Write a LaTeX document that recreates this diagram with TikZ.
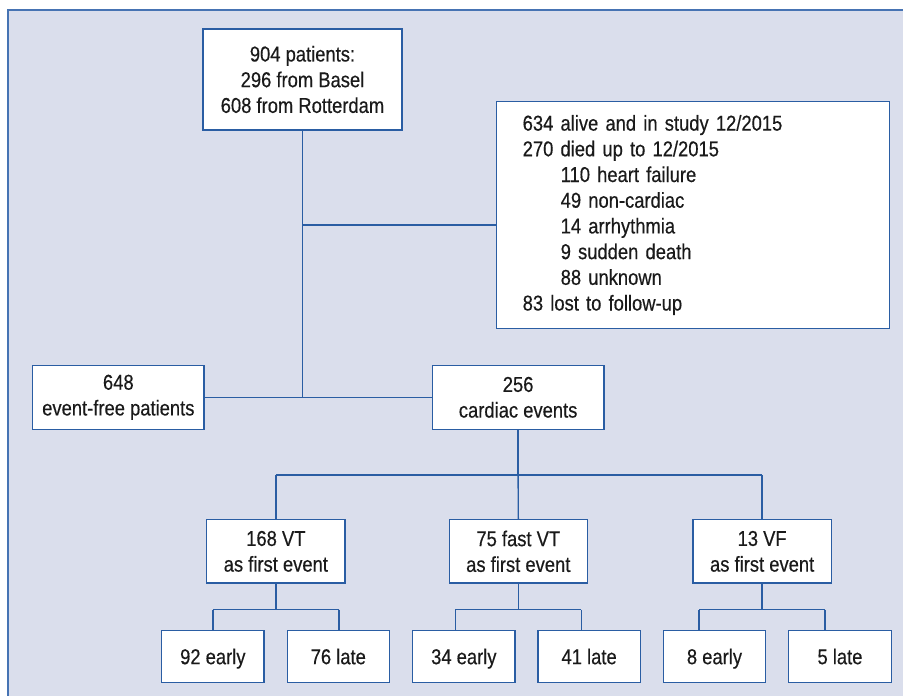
\documentclass[tikz,border=0pt]{standalone}
\usepackage{fontspec}
\setmainfont{Liberation Sans}[FakeStretch=0.855,FakeBold=0.4]
\usetikzlibrary{calc}
\definecolor{bgc}{HTML}{DADEEC}
\definecolor{framec}{HTML}{4673B3}
\definecolor{linec}{HTML}{2A5DA3}
\definecolor{txtc}{HTML}{1A1A1A}
\begin{document}
\begin{tikzpicture}[x=1pt,y=-1pt,
  box/.style={draw=linec, line width=1.4pt, fill=white, text=txtc, inner sep=0pt, align=center,
     font=\fontsize{21.5}{25.7}\selectfont},
  leaf/.style={box, minimum height=51.6pt, text height=15.4pt, text depth=0pt},
  conn/.style={draw=linec, line width=1.4pt}]
\useasboundingbox (0,0) rectangle (903,696);
\fill[white] (0,0) rectangle (903,696);
\fill[bgc] (8,10) rectangle (903,696);
\draw[framec, line width=2pt] (8,696) -- (8,10) -- (903,10);

% nodes
\node[box, minimum width=199pt, minimum height=101pt] (top) at (302.5,79.5)
  {904 patients:\\296 from Basel\\608 from Rotterdam};
\node[box, minimum width=392.6pt, minimum height=226.6pt, text width=340.6pt, align=left] (rb) at (693,215)
  {634 alive and in study 12/2015\\270 died up to 12/2015\\
   \hspace*{38pt}110 heart failure\\\hspace*{38pt}49 non-cardiac\\\hspace*{38pt}14 arrhythmia\\
   \hspace*{38pt}9 sudden death\\\hspace*{38pt}88 unknown\\83 lost to follow-up};
\node[box, minimum width=171.3pt, minimum height=64pt] (ef) at (118.35,397.3) {648\\event-free patients};
\node[box, minimum width=171.7pt, minimum height=64pt] (ce) at (518.15,397.3) {256\\cardiac events};

\node[box, minimum width=138.3pt, minimum height=63.3pt] (v1) at (275.85,551.35) {168 VT\\as first event};
\node[box, minimum width=138pt, minimum height=63.3pt] (v2) at (518.3,551.35) {75 fast VT\\as first event};
\node[box, minimum width=138.3pt, minimum height=63.3pt] (v3) at (762.15,551.35) {13 VF\\as first event};

\node[leaf, minimum width=102.3pt] (b1) at (212.85,656.5) {92 early};
\node[leaf, minimum width=102pt] (b2) at (338.3,656.5) {76 late};
\node[leaf, minimum width=102.3pt] (b3) at (463.85,656.5) {34 early};
\node[leaf, minimum width=102.3pt] (b4) at (589.15,656.5) {41 late};
\node[leaf, minimum width=102.4pt] (b5) at (714.5,656.5) {8 early};
\node[leaf, minimum width=102.6pt] (b6) at (840,656.5) {5 late};

% connectors
\coordinate (rj) at ($(rb.west)+(0,10)$);
\draw[conn] (top.south) -- (top.south |- ef.east);
\draw[conn] (rj) -- (rj -| top.south);
\draw[conn] (ef.east) -- (ce.west);

\coordinate (cj) at ($(ce.south)+(0,45)$);
\draw[conn] (ce.south) -- (cj);
\draw[conn] (cj -| v1.north) -- (cj -| v3.north);
\draw[conn] (cj -| v1.north) -- (v1.north);
\draw[conn] (cj) -- (v2.north);
\draw[conn] (cj -| v3.north) -- (v3.north);

\foreach \p/\l/\r in {v1/b1/b2, v2/b3/b4, v3/b5/b6}{
  \coordinate (j) at ($(\p.south)+(0,26)$);
  \coordinate (jl) at ($(j)+(-63,0)$);
  \coordinate (jr) at ($(j)+(63,0)$);
  \draw[conn] (\p.south) -- (j);
  \draw[conn] (jl) -- (jr);
  \draw[conn] (jl) -- (jl |- \l.north);
  \draw[conn] (jr) -- (jr |- \r.north);
}
\end{tikzpicture}
\end{document}
